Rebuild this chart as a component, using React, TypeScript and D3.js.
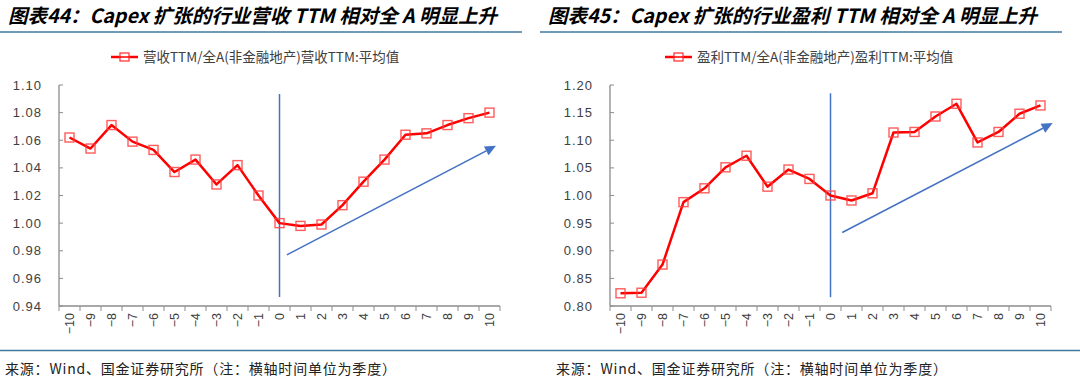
import React from "react";
import * as d3 from "d3";

// ---------- data ----------
const quarters = [-10, -9, -8, -7, -6, -5, -4, -3, -2, -1, 0, 1, 2, 3, 4, 5, 6, 7, 8, 9, 10];
const quarterLabels = ["−10", "−9", "−8", "−7", "−6", "−5", "−4", "−3", "−2", "−1", "0", "1", "2", "3", "4", "5", "6", "7", "8", "9", "10"];

const revenueRatio = [
  1.062, 1.054, 1.071, 1.059, 1.053, 1.037, 1.046, 1.028, 1.042, 1.020, 1.000,
  0.998, 0.999, 1.013, 1.030, 1.046, 1.064, 1.065, 1.071, 1.076, 1.080,
];
const profitRatio = [
  0.823, 0.824, 0.875, 0.988, 1.013, 1.051, 1.072, 1.016, 1.047, 1.030, 1.000,
  0.991, 1.004, 1.114, 1.115, 1.143, 1.166, 1.096, 1.115, 1.148, 1.163,
];

const revenueTicks = [0.94, 0.96, 0.98, 1.0, 1.02, 1.04, 1.06, 1.08, 1.1];
const profitTicks = [0.8, 0.85, 0.9, 0.95, 1.0, 1.05, 1.1, 1.15, 1.2];

// marker line at quarter 0 and trend arrows: [quarter, value]
const revenueVLine = [[0, 0.9465], [0, 1.0935]];
const profitVLine = [[0, 0.816], [0, 1.185]];
const revenueArrow = [[0.35, 0.977], [10.31, 1.056]];
const profitArrow = [[0.56, 0.933], [10.58, 1.131]];

const titles = [
  "图表44：Capex 扩张的行业营收 TTM 相对全 A 明显上升",
  "图表45：Capex 扩张的行业盈利 TTM 相对全 A 明显上升",
];
const legendNames = [
  "营收TTM/全A(非金融地产)营收TTM:平均值",
  "盈利TTM/全A(非金融地产)盈利TTM:平均值",
];
const sourceText = "来源：Wind、国金证券研究所（注：横轴时间单位为季度）";

// ---------- panel ----------
type PanelProps = {
  ox: number;
  frameX: number;
  titleX: number;
  title: string;
  legend: string;
  legendX: number;
  values: number[];
  ticks: number[];
  domain: [number, number];
  vline: number[][];
  arrow: number[][];
  fmt: (v: number) => string;
  idx: number;
};

const RED = "#ff0000";
const BLUE = "#4472c4";
const CJK = "'Noto Sans CJK SC', 'Noto Sans', sans-serif";

function Panel(p: PanelProps) {
  const axLeft = p.ox + 59;
  const axRight = axLeft + 441;
  const top = 85;
  const bottom = 306;
  const x = d3.scaleLinear().domain([-10.5, 10.5]).range([axLeft, axRight]);
  const y = d3.scaleLinear().domain(p.domain).range([bottom, top]);
  const line = d3
    .line<number>()
    .x((_, i) => x(quarters[i]))
    .y((d) => y(d));
  const boundaries = [...quarters.map((q) => q - 0.5), 10.5];

  const [a0, a1] = p.arrow;
  const ax0 = x(a0[0]), ay0 = y(a0[1]), ax1 = x(a1[0]), ay1 = y(a1[1]);
  const ang = Math.atan2(ay1 - ay0, ax1 - ax0);
  const hl = 11, hw = 5;
  const bx = ax1 - hl * Math.cos(ang), by = ay1 - hl * Math.sin(ang);
  const head = [
    [ax1, ay1],
    [bx + hw * Math.sin(ang), by - hw * Math.cos(ang)],
    [bx - hw * Math.sin(ang), by + hw * Math.cos(ang)],
  ];
  const markerId = `m${p.idx}`;
  const lx = p.ox + p.legendX;

  return (
    <g>
      {/* title */}
      <text
        x={p.titleX}
        y={23}
        fontFamily={CJK}
        fontWeight="bold"
        fontStyle="italic"
        fontSize={19.5}
        fill="#000"
      >
        {p.title}
      </text>
      <line x1={p.frameX} x2={p.frameX + 522} y1={32} y2={32} stroke="#41799e" strokeWidth={1.3} />

      {/* legend */}
      <line x1={lx} x2={lx + 27} y1={57} y2={57} stroke={RED} strokeWidth={2.5} />
      <rect x={lx + 9} y={53} width={9} height={8} fill="#fff" stroke="#ff3b3b" strokeWidth={1.3} />
      <line x1={lx + 9} x2={lx + 18} y1={57} y2={57} stroke={RED} strokeWidth={1.5} />
      <text x={lx + 32} y={62} fontFamily={CJK} fontSize={13.5} fill="#404040">
        {p.legend}
      </text>

      {/* y axis */}
      <line x1={axLeft} x2={axLeft} y1={top} y2={bottom} stroke="#8c8c8c" strokeWidth={1.3} />
      {p.ticks.map((t) => (
        <g key={t}>
          <line x1={axLeft} x2={axLeft + 4} y1={y(t)} y2={y(t)} stroke="#8c8c8c" strokeWidth={1} />
          <text
            x={axLeft - 17}
            y={y(t)}
            dy="0.35em"
            textAnchor="end"
            fontFamily="'Liberation Sans', Arial, sans-serif"
            fontSize={13}
            letterSpacing={1}
            fill="#404040"
          >
            {p.fmt(t)}
          </text>
        </g>
      ))}

      {/* x axis */}
      <line x1={axLeft} x2={axRight} y1={bottom} y2={bottom} stroke="#8c8c8c" strokeWidth={1.3} />
      {boundaries.map((b) => (
        <line key={b} x1={x(b)} x2={x(b)} y1={bottom} y2={bottom + 5} stroke="#8c8c8c" strokeWidth={1} />
      ))}
      {quarters.map((q, i) => (
        <text
          key={q}
          transform={`translate(${x(q)},${bottom + 7}) rotate(-90)`}
          dy="0.35em"
          textAnchor="end"
          fontFamily="'Liberation Sans', Arial, sans-serif"
          fontSize={12.5}
          fill="#404040"
        >
          {quarterLabels[i]}
        </text>
      ))}

      {/* quarter-0 marker line */}
      <line
        x1={x(p.vline[0][0])}
        x2={x(p.vline[1][0])}
        y1={y(p.vline[0][1])}
        y2={y(p.vline[1][1])}
        stroke={BLUE}
        strokeWidth={1.5}
      />

      {/* trend arrow */}
      <line x1={ax0} y1={ay0} x2={bx} y2={by} stroke={BLUE} strokeWidth={1.6} />
      <polygon points={head.map((pt) => pt.join(",")).join(" ")} fill={BLUE} />

      {/* series */}
      <path d={line(p.values) || ""} fill="none" stroke={RED} strokeWidth={2.5} strokeLinejoin="round" />
      {p.values.map((v, i) => (
        <rect
          key={`${markerId}-${i}`}
          x={x(quarters[i]) - 4.5}
          y={y(v) - 4.5}
          width={9}
          height={9}
          fill="none"
          stroke="#ff4040"
          strokeOpacity={0.85}
          strokeWidth={1.4}
        />
      ))}

      {/* source */}
      <line x1={p.frameX} x2={p.frameX + 540} y1={350.5} y2={350.5} stroke="#41799e" strokeWidth={1.3} />
      <text x={p.ox + 5} y={374} fontFamily={CJK} fontSize={14} letterSpacing={0.8} fill="#222">
        {sourceText}
      </text>
    </g>
  );
}

export default function App() {
  return (
    <svg
      width={1080}
      height={380}
      style={{ position: "absolute", left: 0, top: 0, background: "#fff" }}
    >
      <rect width={1080} height={380} fill="#fff" />
      <Panel
        idx={0}
        ox={0}
        frameX={0}
        titleX={8}
        title={titles[0]}
        legend={legendNames[0]}
        legendX={111}
        values={revenueRatio}
        ticks={revenueTicks}
        domain={[0.94, 1.1]}
        vline={revenueVLine}
        arrow={revenueArrow}
        fmt={d3.format(".2f")}
      />
      <Panel
        idx={1}
        ox={551}
        frameX={540}
        titleX={548}
        title={titles[1]}
        legend={legendNames[1]}
        legendX={114}
        values={profitRatio}
        ticks={profitTicks}
        domain={[0.8, 1.2]}
        vline={profitVLine}
        arrow={profitArrow}
        fmt={d3.format(".2f")}
      />
    </svg>
  );
}
